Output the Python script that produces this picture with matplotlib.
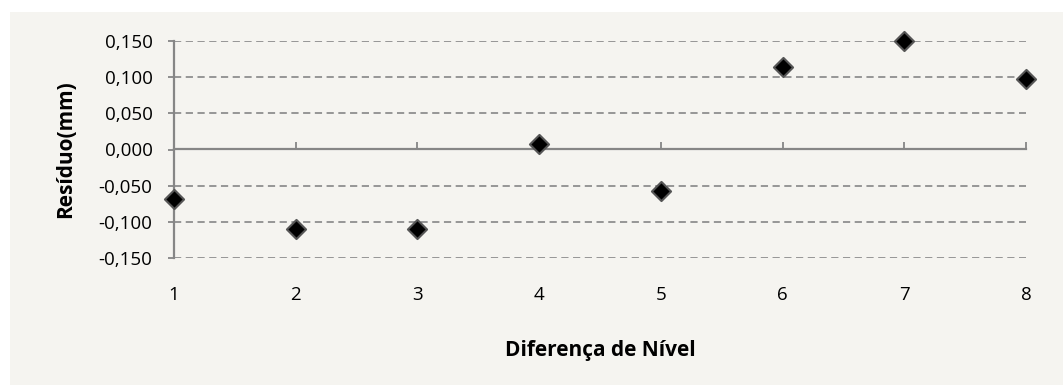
import matplotlib.pyplot as plt
from matplotlib.patches import Rectangle
from matplotlib.ticker import FuncFormatter

diferenca = [1, 2, 3, 4, 5, 6, 7, 8]
residuo = [-0.068, -0.110, -0.110, 0.007, -0.057, 0.114, 0.150, 0.097]
yticks = [-0.150, -0.100, -0.050, 0.000, 0.050, 0.100, 0.150]

plt.rcParams['font.family'] = ['Open Sans', 'DejaVu Sans']
bg = '#f5f4f0'
axis_col = '#868686'

fig = plt.figure(figsize=(10.63, 3.85), dpi=100)
fig.patch.set_facecolor('white')
fig.add_artist(Rectangle((10 / 1063, 0), 1, 1 - 12 / 385, transform=fig.transFigure,
                         facecolor=bg, edgecolor='none', zorder=-10))

ax = fig.add_axes([174 / 1063, 1 - 258 / 385, (1026 - 174) / 1063, (258 - 41) / 385])
ax.patch.set_alpha(0)

ax.scatter(diferenca, residuo, marker='D', s=95, color='black', edgecolor='#555555',
           linewidth=1.5, zorder=5, clip_on=False)

ax.set_xlim(1, 8)
ax.set_ylim(-0.15, 0.15)
ax.set_yticks(yticks)
ax.yaxis.set_major_formatter(FuncFormatter(lambda v, p: f'{v:.3f}'.replace('.', ',').replace('-0,000', '0,000')))
ax.set_xticks(diferenca)

for y in yticks:
    if y != 0:
        ax.axhline(y, color='#8f8f8f', linestyle=(0, (4, 2.5)), linewidth=1.3, zorder=1)

for s in ['top', 'right', 'bottom']:
    ax.spines[s].set_visible(False)
ax.spines['left'].set_color(axis_col)
ax.spines['left'].set_linewidth(1.6)

ax.tick_params(axis='y', direction='out', length=4.5, width=1.3, color=axis_col,
               labelsize=13.5, pad=11, labelcolor='black')
ax.tick_params(axis='x', length=0, labelsize=13.5, pad=20, labelcolor='black')

sec = ax.secondary_xaxis(0.5)
sec.set_xticks(diferenca)
sec.set_xticklabels([])
for s in sec.spines.values():
    s.set_color(axis_col)
    s.set_linewidth(1.6)
sec.tick_params(axis='x', direction='out', length=5, width=1.3, color=axis_col)

ax.set_ylabel('Resíduo(mm)', fontsize=15, fontweight='bold', labelpad=16)
ax.set_xlabel('Diferença de Nível', fontsize=15, fontweight='bold', labelpad=26)

fig.savefig('out.png', dpi=100, facecolor=fig.get_facecolor())
